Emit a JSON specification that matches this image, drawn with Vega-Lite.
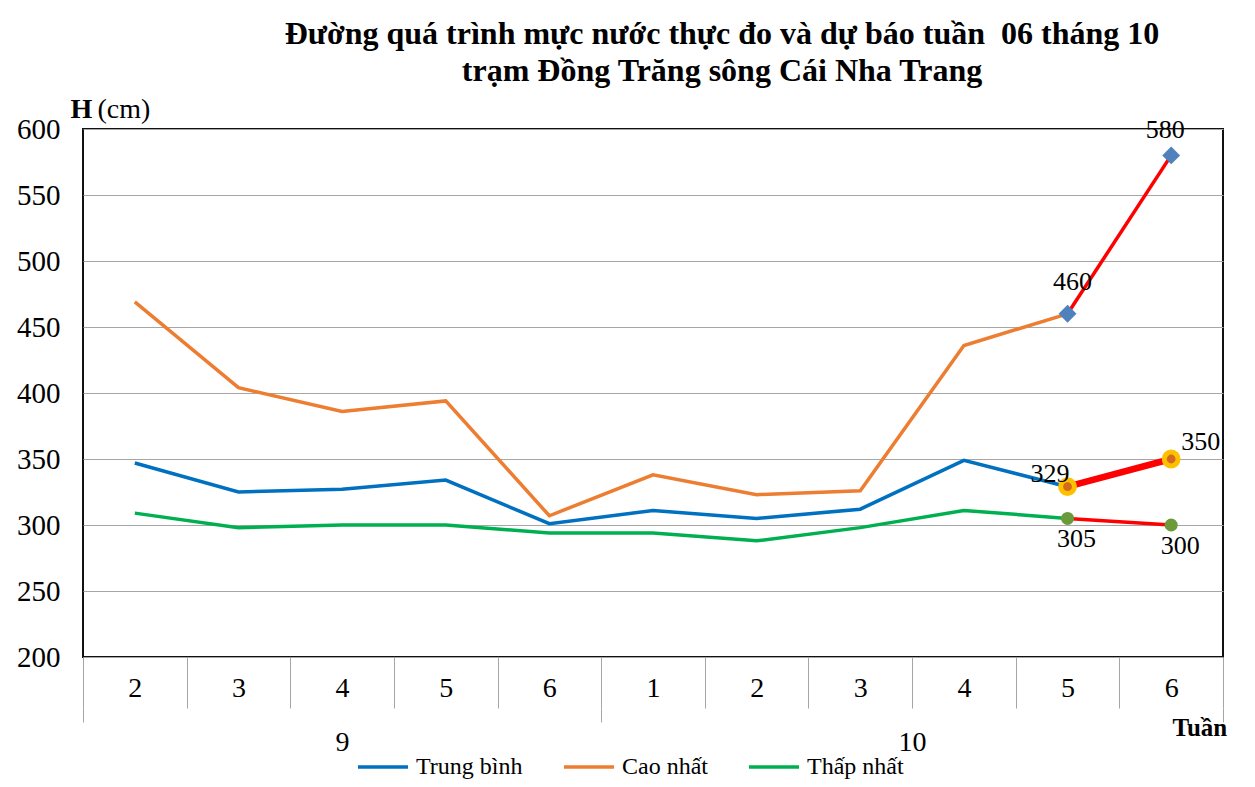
{
  "$schema": "https://vega.github.io/schema/vega-lite/v6.json",
  "autosize": {"type": "none"},
  "width": 1140,
  "height": 528,
  "padding": {"left": 83, "top": 129, "right": 32, "bottom": 130},
  "background": "white",
  "title": {
    "text": ["Đường quá trình mực nước thực đo và dự báo tuần \u00a006 tháng 10", "trạm Đồng Trăng sông Cái Nha Trang"],
    "font": "Liberation Serif",
    "fontSize": 32,
    "fontWeight": "bold",
    "color": "black",
    "anchor": "middle",
    "dx": 69,
    "lineHeight": 37,
    "offset": 7
  },
  "config": {
    "view": {"stroke": "#111111", "strokeWidth": 2},
    "font": "Liberation Serif",
    "legend": {
      "orient": "none",
      "legendX": 273,
      "legendY": 611,
      "direction": "horizontal",
      "symbolType": "stroke",
      "symbolSize": 2500,
      "symbolStrokeWidth": 3.5,
      "labelFont": "Liberation Serif",
      "labelFontSize": 24,
      "labelColor": "black",
      "columnPadding": 34,
      "labelOffset": 6,
      "labelLimit": 300
    }
  },
  "datasets": {
    "wl": [
      {"t": "9/2", "series": "Trung bình", "kind": "Thực đo", "value": 347},
      {"t": "9/3", "series": "Trung bình", "kind": "Thực đo", "value": 325},
      {"t": "9/4", "series": "Trung bình", "kind": "Thực đo", "value": 327},
      {"t": "9/5", "series": "Trung bình", "kind": "Thực đo", "value": 334},
      {"t": "9/6", "series": "Trung bình", "kind": "Thực đo", "value": 301},
      {"t": "10/1", "series": "Trung bình", "kind": "Thực đo", "value": 311},
      {"t": "10/2", "series": "Trung bình", "kind": "Thực đo", "value": 305},
      {"t": "10/3", "series": "Trung bình", "kind": "Thực đo", "value": 312},
      {"t": "10/4", "series": "Trung bình", "kind": "Thực đo", "value": 349},
      {"t": "10/5", "series": "Trung bình", "kind": "Thực đo", "value": 329},
      {"t": "9/2", "series": "Cao nhất", "kind": "Thực đo", "value": 469},
      {"t": "9/3", "series": "Cao nhất", "kind": "Thực đo", "value": 404},
      {"t": "9/4", "series": "Cao nhất", "kind": "Thực đo", "value": 386},
      {"t": "9/5", "series": "Cao nhất", "kind": "Thực đo", "value": 394},
      {"t": "9/6", "series": "Cao nhất", "kind": "Thực đo", "value": 307},
      {"t": "10/1", "series": "Cao nhất", "kind": "Thực đo", "value": 338},
      {"t": "10/2", "series": "Cao nhất", "kind": "Thực đo", "value": 323},
      {"t": "10/3", "series": "Cao nhất", "kind": "Thực đo", "value": 326},
      {"t": "10/4", "series": "Cao nhất", "kind": "Thực đo", "value": 436},
      {"t": "10/5", "series": "Cao nhất", "kind": "Thực đo", "value": 460},
      {"t": "9/2", "series": "Thấp nhất", "kind": "Thực đo", "value": 309},
      {"t": "9/3", "series": "Thấp nhất", "kind": "Thực đo", "value": 298},
      {"t": "9/4", "series": "Thấp nhất", "kind": "Thực đo", "value": 300},
      {"t": "9/5", "series": "Thấp nhất", "kind": "Thực đo", "value": 300},
      {"t": "9/6", "series": "Thấp nhất", "kind": "Thực đo", "value": 294},
      {"t": "10/1", "series": "Thấp nhất", "kind": "Thực đo", "value": 294},
      {"t": "10/2", "series": "Thấp nhất", "kind": "Thực đo", "value": 288},
      {"t": "10/3", "series": "Thấp nhất", "kind": "Thực đo", "value": 298},
      {"t": "10/4", "series": "Thấp nhất", "kind": "Thực đo", "value": 311},
      {"t": "10/5", "series": "Thấp nhất", "kind": "Thực đo", "value": 305},
      {"t": "10/5", "series": "Trung bình", "kind": "Dự báo", "value": 329},
      {"t": "10/6", "series": "Trung bình", "kind": "Dự báo", "value": 350},
      {"t": "10/5", "series": "Cao nhất", "kind": "Dự báo", "value": 460},
      {"t": "10/6", "series": "Cao nhất", "kind": "Dự báo", "value": 580},
      {"t": "10/5", "series": "Thấp nhất", "kind": "Dự báo", "value": 305},
      {"t": "10/6", "series": "Thấp nhất", "kind": "Dự báo", "value": 300}
    ],
    "months": [
      {"month": "9", "start": 0, "end": 5},
      {"month": "10", "start": 5, "end": 11}
    ]
  },
  "resolve": {"scale": {"x": "independent", "y": "independent"}},
  "layer": [
    {
      "data": {"name": "wl"},
      "encoding": {
        "x": {
          "field": "t",
          "type": "ordinal",
          "bandPosition": 0.5,
          "scale": {"type": "band", "paddingInner": 0, "paddingOuter": 0,
            "domain": ["9/2", "9/3", "9/4", "9/5", "9/6", "10/1", "10/2", "10/3", "10/4", "10/5", "10/6"]},
          "axis": {
            "orient": "bottom",
            "title": null,
            "labelExpr": "split(datum.value, '/')[1]",
            "labelAngle": 0,
            "labelFont": "Liberation Serif",
            "labelFontSize": 28,
            "labelColor": "black",
            "labelPadding": -34,
            "labelBaseline": "top",
            "tickBand": "extent",
            "tickSize": 51,
            "tickColor": "#a6a6a6",
            "tickWidth": 1,
            "domain": false,
            "grid": false
          }
        },
        "y": {
          "field": "value",
          "type": "quantitative",
          "scale": {"domain": [200, 600], "nice": false, "zero": false},
          "axis": {
            "values": [200, 250, 300, 350, 400, 450, 500, 550, 600],
            "grid": true,
            "gridColor": "#a6a6a6",
            "gridWidth": 1.2,
            "ticks": false,
            "domain": false,
            "labelFont": "Liberation Serif",
            "labelFontSize": 29,
            "labelColor": "black",
            "labelPadding": 23,
            "title": "(cm)",
            "titleAngle": 0,
            "titleX": 14,
            "titleY": -12,
            "titleAlign": "left",
            "titleBaseline": "alphabetic",
            "titleFont": "Liberation Serif",
            "titleFontSize": 28,
            "titleFontWeight": "normal",
            "titleColor": "black"
          }
        }
      },
      "layer": [
        {
          "transform": [{"filter": "datum.kind == 'Thực đo'"}],
          "mark": {"type": "line", "strokeWidth": 3.5},
          "encoding": {
            "color": {
              "field": "series",
              "type": "nominal",
              "scale": {"domain": ["Trung bình", "Cao nhất", "Thấp nhất"], "range": ["#0070C0", "#ED7D31", "#00B050"]},
              "legend": {"title": null}
            }
          }
        },
        {
          "transform": [{"filter": "datum.kind == 'Dự báo' && datum.series != 'Trung bình'"}],
          "mark": {"type": "line", "strokeWidth": 3.5, "color": "#FF0000"},
          "encoding": {"detail": {"field": "series"}}
        },
        {
          "transform": [{"filter": "datum.kind == 'Dự báo' && datum.series == 'Trung bình'"}],
          "mark": {"type": "line", "strokeWidth": 6.5, "color": "#FF0000"},
          "encoding": {}
        },
        {
          "transform": [{"filter": "datum.kind == 'Dự báo' && datum.series == 'Cao nhất'"}],
          "mark": {"type": "point", "shape": "diamond", "filled": true, "size": 320, "color": "#4F81BD", "opacity": 1}
        },
        {
          "transform": [{"filter": "datum.kind == 'Dự báo' && datum.series == 'Trung bình'"}],
          "mark": {"type": "point", "shape": "circle", "filled": true, "size": 190, "fill": "#D2691E", "stroke": "#FFC000", "strokeWidth": 5, "opacity": 1}
        },
        {
          "transform": [{"filter": "datum.kind == 'Dự báo' && datum.series == 'Thấp nhất'"}],
          "mark": {"type": "point", "shape": "circle", "filled": true, "size": 170, "color": "#6A9A3A", "opacity": 1}
        },
        {
          "transform": [{"filter": "datum.kind == 'Dự báo' && datum.series == 'Cao nhất' && datum.t == '10/6'"}],
          "mark": {"type": "text", "font": "Liberation Serif", "fontSize": 26, "color": "black", "align": "center", "baseline": "alphabetic", "dx": -6, "dy": -17},
          "encoding": {"text": {"field": "value", "type": "quantitative"}}
        },
        {
          "transform": [{"filter": "datum.kind == 'Dự báo' && datum.series == 'Cao nhất' && datum.t == '10/5'"}],
          "mark": {"type": "text", "font": "Liberation Serif", "fontSize": 26, "color": "black", "align": "center", "baseline": "alphabetic", "dx": 5, "dy": -24},
          "encoding": {"text": {"field": "value", "type": "quantitative"}}
        },
        {
          "transform": [{"filter": "datum.kind == 'Dự báo' && datum.series == 'Trung bình' && datum.t == '10/5'"}],
          "mark": {"type": "text", "font": "Liberation Serif", "fontSize": 26, "color": "black", "align": "right", "baseline": "alphabetic", "dx": 2, "dy": -5},
          "encoding": {"text": {"field": "value", "type": "quantitative"}}
        },
        {
          "transform": [{"filter": "datum.kind == 'Dự báo' && datum.series == 'Trung bình' && datum.t == '10/6'"}],
          "mark": {"type": "text", "font": "Liberation Serif", "fontSize": 26, "color": "black", "align": "left", "baseline": "alphabetic", "dx": 10, "dy": -9},
          "encoding": {"text": {"field": "value", "type": "quantitative"}}
        },
        {
          "transform": [{"filter": "datum.kind == 'Dự báo' && datum.series == 'Thấp nhất'"}],
          "mark": {"type": "text", "font": "Liberation Serif", "fontSize": 26, "color": "black", "align": "center", "baseline": "alphabetic", "dx": 9, "dy": 29},
          "encoding": {"text": {"field": "value", "type": "quantitative"}}
        }
      ]
    },
    {
      "data": {"name": "months"},
      "mark": {"type": "rect", "opacity": 0},
      "encoding": {
        "x": {
          "field": "start",
          "type": "quantitative",
          "scale": {"domain": [0, 11], "nice": false, "zero": false},
          "axis": {
            "orient": "bottom",
            "offset": 51,
            "values": [0, 2.5, 5, 8, 11],
            "labelExpr": "datum.value == 2.5 ? '9' : datum.value == 8 ? '10' : ''",
            "labelFont": "Liberation Serif",
            "labelFontSize": 28,
            "labelColor": "black",
            "labelPadding": 6,
            "labelBaseline": "top",
            "labelFlush": false,
            "labelOverlap": false,
            "tickSize": 14,
            "tickColor": "#a6a6a6",
            "tickOpacity": {"condition": {"test": "datum.value == 2.5 || datum.value == 8", "value": 0}, "value": 1},
            "domain": false,
            "grid": false,
            "title": "Tuần",
            "titleFont": "Liberation Serif",
            "titleFontSize": 25,
            "titleFontWeight": "bold",
            "titleColor": "black",
            "titleX": 1089,
            "titleY": 27,
            "titleAlign": "left",
            "titleBaseline": "alphabetic"
          }
        },
        "x2": {"field": "end"}
      }
    },
    {
      "data": {"name": "wl"},
      "mark": {"type": "text", "opacity": 0},
      "encoding": {
        "y": {
          "field": "value",
          "type": "quantitative",
          "scale": {"domain": [200, 600], "nice": false, "zero": false},
          "axis": {
            "orient": "right",
            "labels": false,
            "ticks": false,
            "domain": false,
            "grid": false,
            "title": "H",
            "titleAngle": 0,
            "titleX": -1153,
            "titleY": -12,
            "titleAlign": "left",
            "titleBaseline": "alphabetic",
            "titleFont": "Liberation Serif",
            "titleFontSize": 28,
            "titleFontWeight": "bold",
            "titleColor": "black"
          }
        },
        "text": {"value": ""}
      }
    }
  ]
}
